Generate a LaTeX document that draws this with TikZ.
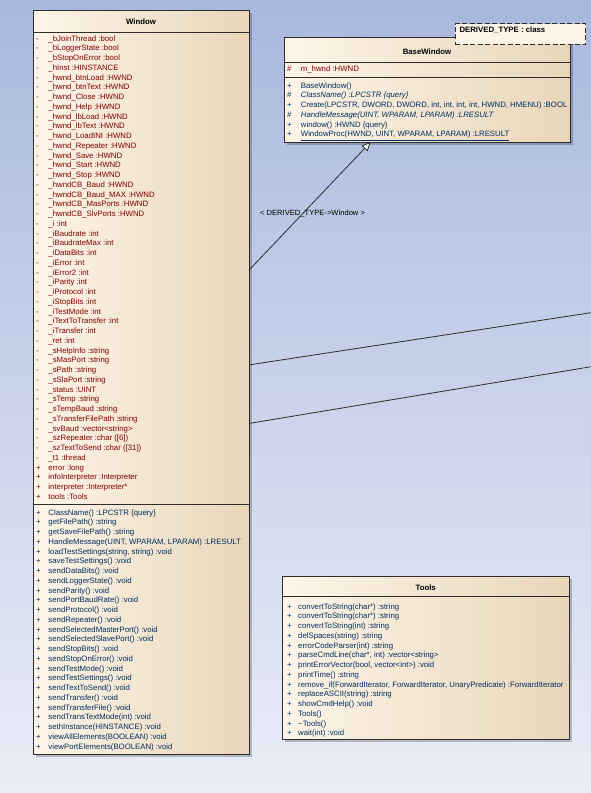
\documentclass[tikz,border=0pt]{standalone}
\usepackage{fontspec}
\setmainfont{Liberation Sans}
\usetikzlibrary{arrows.meta,shadows,positioning}

\definecolor{bgtop}{RGB}{168,184,221}
\definecolor{bgbottom}{RGB}{234,237,247}
\definecolor{boxleft}{RGB}{253,245,232}
\definecolor{boxright}{RGB}{232,214,186}
\definecolor{boxline}{RGB}{48,44,44}
\definecolor{attrcol}{RGB}{128,0,0}
\definecolor{opcol}{RGB}{0,45,95}
\definecolor{notefill}{RGB}{252,244,230}

\newlength{\memgap}
\newcommand{\mem}[2]{\makebox[\memgap][l]{#1}#2\rule[-2.75pt]{0pt}{9.75pt}}

\tikzset{
  classbox/.style={draw=boxline, line width=0.9pt, left color=boxleft, right color=boxright,
    inner sep=0pt, outer sep=0pt, anchor=north west,
    drop shadow={shadow xshift=2.5pt, shadow yshift=-2.5pt, fill=black, opacity=0.22}},
  classname/.style={font=\fontsize{7.8}{9.75}\selectfont\bfseries, text=black, inner sep=0pt},
  members/.style={font=\fontsize{7.8}{9.75}\selectfont\setlength{\memgap}{#1}, align=left,
    inner sep=0pt, anchor=north west},
  members/.default=12.3pt,
  attrs/.style={members=#1, text=attrcol},
  attrs/.default=12.3pt,
  ops/.style={members=#1, text=opcol},
  ops/.default=12.3pt,
  sep/.style={draw=boxline, line width=0.9pt},
  notebox/.style={draw=boxline, line width=0.9pt, dash pattern=on 5pt off 2.5pt, fill=notefill,
    inner sep=0pt, outer sep=0pt, anchor=north west},
  conn/.style={draw=boxline, line width=0.8pt},
  inherit/.style={conn, -{Triangle[length=9pt, width=8pt, fill=white]}},
  conlabel/.style={font=\fontsize{7.6}{9}\selectfont, text=black, inner sep=0pt}
}

\begin{document}
\begin{tikzpicture}[x=1pt, y=-1pt]
  \useasboundingbox (0,0) rectangle (591,793);
  \fill[top color=bgtop, bottom color=bgbottom] (0,0) rectangle (591,793);

    %%Window
    \node[classbox, minimum width=216, minimum height=744] (window) at (33,10) {};
    \node[classname] (windowname) at (141,21.5) {Window};
    \draw[sep] (33,32) -- (249,32);
    \draw[sep] (33,504) -- (249,504);
    \node[attrs] (windowattrs) at (36,33.8) {%
      \mem{-}{\_bJoinThread :bool}\\
      \mem{-}{\_bLoggerState :bool}\\
      \mem{-}{\_bStopOnError :bool}\\
      \mem{-}{\_hInst :HINSTANCE}\\
      \mem{-}{\_hwnd\_btnLoad :HWND}\\
      \mem{-}{\_hwnd\_btnText :HWND}\\
      \mem{-}{\_hwnd\_Close :HWND}\\
      \mem{-}{\_hwnd\_Help :HWND}\\
      \mem{-}{\_hwnd\_lbLoad :HWND}\\
      \mem{-}{\_hwnd\_lbText :HWND}\\
      \mem{-}{\_hwnd\_LoadINI :HWND}\\
      \mem{-}{\_hwnd\_Repeater :HWND}\\
      \mem{-}{\_hwnd\_Save :HWND}\\
      \mem{-}{\_hwnd\_Start :HWND}\\
      \mem{-}{\_hwnd\_Stop :HWND}\\
      \mem{-}{\_hwndCB\_Baud :HWND}\\
      \mem{-}{\_hwndCB\_Baud\_MAX :HWND}\\
      \mem{-}{\_hwndCB\_MasPorts :HWND}\\
      \mem{-}{\_hwndCB\_SlvPorts :HWND}\\
      \mem{-}{\_i :int}\\
      \mem{-}{\_iBaudrate :int}\\
      \mem{-}{\_iBaudrateMax :int}\\
      \mem{-}{\_iDataBits :int}\\
      \mem{-}{\_iError :int}\\
      \mem{-}{\_iError2 :int}\\
      \mem{-}{\_iParity :int}\\
      \mem{-}{\_iProtocol :int}\\
      \mem{-}{\_iStopBits :int}\\
      \mem{-}{\_iTestMode :int}\\
      \mem{-}{\_iTextToTransfer :int}\\
      \mem{-}{\_iTransfer :int}\\
      \mem{-}{\_ret :int}\\
      \mem{-}{\_sHelpInfo :string}\\
      \mem{-}{\_sMasPort :string}\\
      \mem{-}{\_sPath :string}\\
      \mem{-}{\_sSlaPort :string}\\
      \mem{-}{\_status :UINT}\\
      \mem{-}{\_sTemp :string}\\
      \mem{-}{\_sTempBaud :string}\\
      \mem{-}{\_sTransferFilePath :string}\\
      \mem{-}{\_svBaud :vector<string>}\\
      \mem{-}{\_szRepeater :char ([6])}\\
      \mem{-}{\_szTextToSend :char ([31])}\\
      \mem{-}{\_t1 :thread}\\
      \mem{+}{error :long}\\
      \mem{+}{infoInterpreter :Interpreter}\\
      \mem{+}{interpreter :Interpreter*}\\
      \mem{+}{tools :Tools}};
    \node[ops] (windowops) at (36,507.8) {%
      \mem{+}{ClassName() :LPCSTR \{query\}}\\
      \mem{+}{getFilePath() :string}\\
      \mem{+}{getSaveFilePath() :string}\\
      \mem{+}{HandleMessage(UINT, WPARAM, LPARAM) :LRESULT}\\
      \mem{+}{loadTestSettings(string, string) :void}\\
      \mem{+}{saveTestSettings() :void}\\
      \mem{+}{sendDataBits() :void}\\
      \mem{+}{sendLoggerState() :void}\\
      \mem{+}{sendParity() :void}\\
      \mem{+}{sendPortBaudRate() :void}\\
      \mem{+}{sendProtocol() :void}\\
      \mem{+}{sendRepeater() :void}\\
      \mem{+}{sendSelectedMasterPort() :void}\\
      \mem{+}{sendSelectedSlavePort() :void}\\
      \mem{+}{sendStopBits() :void}\\
      \mem{+}{sendStopOnError() :void}\\
      \mem{+}{sendTestMode() :void}\\
      \mem{+}{sendTestSettings() :void}\\
      \mem{+}{sendTextToSend() :void}\\
      \mem{+}{sendTransfer() :void}\\
      \mem{+}{sendTransferFile() :void}\\
      \mem{+}{sendTransTextMode(int) :void}\\
      \mem{+}{sethInstance(HINSTANCE) :void}\\
      \mem{+}{viewAllElements(BOOLEAN) :void}\\
      \mem{+}{viewPortElements(BOOLEAN) :void}};

    %%BaseWindow
    \node[classbox, minimum width=286, minimum height=105] (basewindow) at (284,37) {};
    \node[classname] (basewindowname) at (427,51.7) {BaseWindow};
    \draw[sep] (284,62.7) -- (570,62.7);
    \draw[sep] (284,77.7) -- (570,77.7);
    \node[attrs=13.7pt] (basewindowattrs) at (287,63.8) {\mem{\#}{m\_hwnd :HWND}};
    \node[ops=13.7pt] (basewindowops) at (287,80.8) {%
      \mem{+}{BaseWindow()}\\
      \mem{\#}{\itshape ClassName() :LPCSTR \{query\}}\\
      \mem{+}{Create(LPCSTR, DWORD, DWORD, int, int, int, int, HWND, HMENU) :BOOL}\\
      \mem{\#}{\itshape HandleMessage(UINT, WPARAM, LPARAM) :LRESULT}\\
      \mem{+}{window() :HWND \{query\}}\\
      \mem{+}{\underline{WindowProc(HWND, UINT, WPARAM, LPARAM) :LRESULT}}};

    %%note
    \node[notebox, minimum width=130.7, minimum height=20.6] (derivednote) at (455,23.7) {};
    \node[classname, anchor=west] (derivednotetext) at (459.3,30.3) {DERIVED\_TYPE : class};

    %%Tools
    \node[classbox, minimum width=286.5, minimum height=163] (tools) at (282.5,576) {};
    \node[classname] (toolsname) at (425.7,588) {Tools};
    \draw[sep] (282.5,596.7) -- (569,596.7);
    \node[ops=11pt] (toolsops) at (287,601.8) {%
      \mem{+}{convertToString(char*) :string}\\
      \mem{+}{convertToString(char*) :string}\\
      \mem{+}{convertToString(int) :string}\\
      \mem{+}{delSpaces(string) :string}\\
      \mem{+}{errorCodeParser(int) :string}\\
      \mem{+}{parseCmdLine(char*, int) :vector<string>}\\
      \mem{+}{printErrorVector(bool, vector<int>) :void}\\
      \mem{+}{printTime() :string}\\
      \mem{+}{remove\_if(ForwardIterator, ForwardIterator, UnaryPredicate) :ForwardIterator}\\
      \mem{+}{replaceASCII(string) :string}\\
      \mem{+}{showCmdHelp() :void}\\
      \mem{+}{Tools()}\\
      \mem{+}{\textasciitilde Tools()}\\
      \mem{+}{wait(int) :void}};

    %%connectors
    \coordinate (rightend1) at (591,312.7);
    \coordinate (rightend2) at (591,366.7);
    \draw[inherit] (window.46) -- (basewindow.223.7)
      node[conlabel, pos=0.44, xshift=10pt] (inheritlabel) {< DERIVED\_TYPE->Window >};
    \draw[conn] (window.9) -- (rightend1);
    \draw[conn] (window.-21.7) -- (rightend2);
\end{tikzpicture}
\end{document}
